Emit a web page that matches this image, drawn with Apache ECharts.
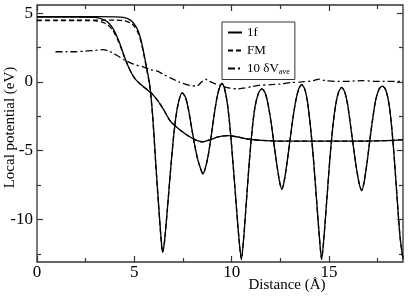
<!DOCTYPE html>
<html><head><meta charset="utf-8">
<script src="https://cdn.jsdelivr.net/npm/echarts@6/dist/echarts.min.js"></script>
<style>html,body{margin:0;padding:0;background:#fff}#c{width:409px;height:301px}</style>
</head><body><div id="c"></div>
<script>
// ---- data ----
const legendNames = ['1f', 'FM', '10 δV_ave'];
const xMajorTicks = [0, 5, 10, 15];
const xMinorTicks = [2.5, 7.5, 12.5, 17.5];
const yMajorTicks = [-10, -5, 0, 5];
const yMinorTicks = [-12.5, -7.5, -2.5, 2.5];

const pot1f = [[0,4.75],[1,4.75],[2,4.75],[3,4.75],[4,4.74],[4.5,4.68],[4.8,4.5],[5.0,4.2],[5.2,3.7],[5.35,3.0],[5.5,2.0],[5.65,0.9],[5.8,-0.3],[5.95,-2.6],[6.1,-5.9],[6.25,-9.0],[6.38,-11.5],[6.45,-12.4],[6.55,-11.6],[6.7,-9.2],[6.85,-6.6],[7.0,-4.2],[7.15,-2.4],[7.3,-1.3],[7.46,-0.8],[7.62,-1.1],[7.78,-2.0],[7.95,-3.4],[8.1,-4.6],[8.25,-5.6],[8.4,-6.3],[8.53,-6.7],[8.66,-6.2],[8.8,-5.3],[8.95,-3.9],[9.1,-2.4],[9.25,-1.1],[9.38,-0.4],[9.5,-0.1],[9.62,-0.4],[9.78,-1.6],[9.92,-3.4],[10.05,-5.6],[10.2,-8.3],[10.35,-11.0],[10.5,-12.9],[10.62,-11.3],[10.75,-8.8],[10.9,-5.9],[11.05,-3.5],[11.2,-1.8],[11.38,-0.8],[11.55,-0.5],[11.72,-0.8],[11.88,-1.7],[12.05,-3.2],[12.2,-4.8],[12.35,-6.3],[12.48,-7.4],[12.58,-7.8],[12.7,-7.2],[12.85,-5.8],[13.0,-4.2],[13.15,-2.6],[13.3,-1.3],[13.45,-0.5],[13.6,-0.2],[13.75,-0.5],[13.9,-1.5],[14.05,-3.3],[14.2,-5.6],[14.35,-8.4],[14.5,-11.2],[14.62,-12.9],[14.74,-11.3],[14.9,-8.3],[15.05,-5.5],[15.2,-3.2],[15.35,-1.6],[15.5,-0.7],[15.65,-0.4],[15.8,-0.7],[15.95,-1.6],[16.1,-3.1],[16.25,-4.7],[16.4,-6.2],[16.55,-7.4],[16.68,-7.9],[16.8,-7.3],[16.95,-5.9],[17.1,-4.2],[17.25,-2.6],[17.4,-1.3],[17.58,-0.5],[17.75,-0.3],[17.92,-0.6],[18.08,-1.6],[18.22,-3.3],[18.36,-5.7],[18.5,-8.5],[18.65,-11.3],[18.8,-12.9]];

const potFM = [[0,4.5],[1,4.5],[2,4.5],[3,4.5],[4,4.5],[4.5,4.45],[4.8,4.3],[5.0,4.05],[5.2,3.55],[5.35,2.9],[5.5,1.9],[5.65,0.8],[5.8,-0.4],[5.95,-2.7],[6.1,-6.0],[6.25,-9.1],[6.38,-11.6],[6.45,-12.4],[6.55,-11.6],[6.7,-9.2],[6.85,-6.6],[7.0,-4.2],[7.15,-2.4],[7.3,-1.3],[7.46,-0.8],[7.62,-1.1],[7.78,-2.0],[7.95,-3.4],[8.1,-4.6],[8.25,-5.6],[8.4,-6.3],[8.53,-6.7],[8.66,-6.2],[8.8,-5.3],[8.95,-3.9],[9.1,-2.4],[9.25,-1.1],[9.38,-0.4],[9.5,-0.1],[9.62,-0.4],[9.78,-1.6],[9.92,-3.4],[10.05,-5.6],[10.2,-8.3],[10.35,-11.0],[10.5,-12.9],[10.62,-11.3],[10.75,-8.8],[10.9,-5.9],[11.05,-3.5],[11.2,-1.8],[11.38,-0.8],[11.55,-0.5],[11.72,-0.8],[11.88,-1.7],[12.05,-3.2],[12.2,-4.8],[12.35,-6.3],[12.48,-7.4],[12.58,-7.8],[12.7,-7.2],[12.85,-5.8],[13.0,-4.2],[13.15,-2.6],[13.3,-1.3],[13.45,-0.5],[13.6,-0.2],[13.75,-0.5],[13.9,-1.5],[14.05,-3.3],[14.2,-5.6],[14.35,-8.4],[14.5,-11.2],[14.62,-12.9],[14.74,-11.3],[14.9,-8.3],[15.05,-5.5],[15.2,-3.2],[15.35,-1.6],[15.5,-0.7],[15.65,-0.4],[15.8,-0.7],[15.95,-1.6],[16.1,-3.1],[16.25,-4.7],[16.4,-6.2],[16.55,-7.4],[16.68,-7.9],[16.8,-7.3],[16.95,-5.9],[17.1,-4.2],[17.25,-2.6],[17.4,-1.3],[17.58,-0.5],[17.75,-0.3],[17.92,-0.6],[18.08,-1.6],[18.22,-3.3],[18.36,-5.7],[18.5,-8.5],[18.65,-11.3],[18.8,-12.9]];

const avg1f = [[0,4.72],[1,4.72],[2,4.72],[3,4.7],[3.3,4.6],[3.6,4.4],[3.9,3.9],[4.2,3.0],[4.45,2.0],[4.65,1.25],[4.85,0.65],[5.05,0.2],[5.3,-0.15],[5.6,-0.5],[5.9,-0.85],[6.2,-1.35],[6.5,-2.0],[6.85,-2.85],[7.35,-3.5],[7.8,-3.95],[8.2,-4.25],[8.5,-4.35],[8.9,-4.2],[9.3,-4.0],[9.8,-3.9],[10.3,-4.0],[10.8,-4.15],[11.5,-4.25],[12.5,-4.3],[13.5,-4.3],[14.5,-4.3],[15.5,-4.3],[16.5,-4.3],[17.5,-4.28],[18.3,-4.25],[18.8,-4.2]];

const avgFM = [[0,4.47],[1,4.47],[2,4.47],[3,4.45],[3.3,4.38],[3.6,4.2],[3.9,3.75],[4.2,2.9],[4.45,1.95],[4.65,1.25],[4.85,0.65],[5.05,0.2],[5.3,-0.15],[5.6,-0.5],[5.9,-0.85],[6.2,-1.35],[6.5,-2.0],[6.85,-2.85],[7.35,-3.5],[7.8,-3.95],[8.2,-4.25],[8.5,-4.35],[8.9,-4.2],[9.3,-4.0],[9.8,-3.9],[10.3,-4.0],[10.8,-4.15],[11.5,-4.25],[12.5,-4.3],[13.5,-4.3],[14.5,-4.3],[15.5,-4.3],[16.5,-4.3],[17.5,-4.28],[18.3,-4.25],[18.8,-4.2]];

const dV = [[0.95,2.2],[1.5,2.2],[2,2.2],[2.5,2.25],[3,2.3],[3.4,2.35],[3.7,2.25],[3.9,2.1],[4.2,1.85],[4.5,1.6],[4.95,1.3],[5.45,1.1],[5.8,0.9],[6.15,0.8],[6.5,0.55],[6.85,0.3],[7.3,0.0],[7.85,-0.25],[8.2,-0.3],[8.45,0.0],[8.65,0.2],[8.85,0.05],[9.1,-0.1],[9.5,-0.3],[9.9,-0.45],[10.3,-0.5],[10.6,-0.45],[11.0,-0.35],[11.4,-0.25],[12.0,-0.2],[12.5,-0.15],[13.0,-0.05],[13.6,0.0],[14.2,0.1],[14.5,0.2],[14.8,0.1],[15.3,0.05],[16,0.05],[16.7,0.1],[17.3,0.05],[18,0.05],[18.8,0.05]];

// ---- chart ----
const X_MIN = 0, X_MAX = 18.8, Y_MIN = -13.1, Y_MAX = 5.6;
const FONT = 'Liberation Serif';
const AX = '#333';

function xAx(pos, ticks, len, main) {
  return {
    type: 'value', min: X_MIN, max: X_MAX, position: pos,
    axisLine: { show: false, onZero: false },
    splitLine: { show: false },
    axisTick: { show: true, inside: true, length: len, customValues: ticks, lineStyle: { color: AX, width: 1.2 } },
    axisLabel: main ? { show: true, customValues: ticks, margin: 2, fontFamily: FONT, fontSize: 17, color: '#000' } : { show: false },
    name: main ? 'Distance (Å)' : '',
    nameLocation: 'middle', nameGap: 16, nameMoveOverlap: false,
    nameTextStyle: { fontFamily: FONT, fontSize: 15, color: '#000', padding: [0, 0, 0, 134] }
  };
}
function yAx(pos, ticks, len, main) {
  return {
    type: 'value', min: Y_MIN, max: Y_MAX, position: pos,
    axisLine: { show: false, onZero: false },
    splitLine: { show: false },
    axisTick: { show: true, inside: true, length: len, customValues: ticks, lineStyle: { color: AX, width: 1.2 } },
    axisLabel: main ? { show: true, customValues: ticks, margin: 4, fontFamily: FONT, fontSize: 17, color: '#000' } : { show: false },
    name: main ? 'Local potential (eV)' : '',
    nameLocation: 'middle', nameGap: 19, nameRotate: 90, nameMoveOverlap: false,
    nameTextStyle: { fontFamily: FONT, fontSize: 15, color: '#000', padding: [0, 0, 0, 12] }
  };
}

function line(name, data, type) {
  return {
    type: 'line', name: name, data: data, xAxisIndex: 0, yAxisIndex: 0,
    symbol: 'none', smooth: 0.25, clip: true,
    lineStyle: { color: '#000', width: 1.3, type: type },
    itemStyle: { color: '#000' },
    emphasis: { disabled: true }, silent: true, animation: false
  };
}

const chart = echarts.init(document.getElementById('c'), null, { renderer: 'canvas' });
chart.setOption({
  animation: false,
  grid: { left: 37, right: 6, top: 5, bottom: 39, outerBoundsMode: 'none', containLabel: false, show: true, borderColor: AX, borderWidth: 1.3, backgroundColor: 'transparent' },
  xAxis: [xAx('bottom', xMajorTicks, 6, true), xAx('bottom', xMinorTicks, 4, false), xAx('top', xMajorTicks, 6, false), xAx('top', xMinorTicks, 4, false)],
  yAxis: [yAx('left', yMajorTicks, 6, true), yAx('left', yMinorTicks, 4, false), yAx('right', yMajorTicks, 6, false), yAx('right', yMinorTicks, 4, false)],
  legend: {
    data: legendNames, orient: 'vertical', left: 222, top: 22,
    itemWidth: 14, itemHeight: 12, itemGap: 5,
    borderColor: AX, borderWidth: 1, padding: [4, 5, 4, 5],
    selectedMode: false,
    itemStyle: { opacity: 0 },
    textStyle: { fontFamily: FONT, fontSize: 13, color: '#000', rich: { sub: { fontFamily: FONT, fontSize: 8, verticalAlign: 'bottom', padding: [6, 0, 0, 0] } } },
    formatter: function (n) { return n === '10 δV_ave' ? '10 δV{sub|ave}' : n; }
  },
  series: [
    line('1f', pot1f, 'solid'),
    line('1f avg', avg1f, 'solid'),
    line('FM', potFM, [5, 3]),
    line('FM avg', avgFM, [5, 3]),
    line('10 δV_ave', dV, [7, 3, 2, 3])
  ]
});
</script></body></html>
